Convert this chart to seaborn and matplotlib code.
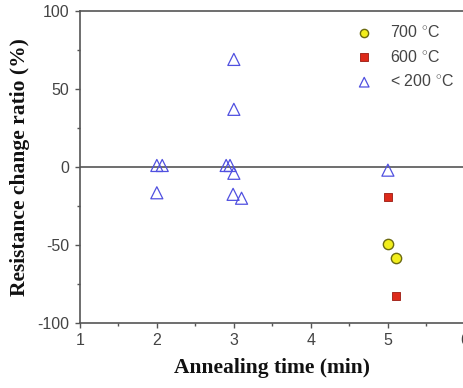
import matplotlib
matplotlib.use("Agg")
import matplotlib.pyplot as plt
import seaborn as sns
import pandas as pd
from matplotlib.ticker import MultipleLocator

# data
t700_x = [5.0, 5.1]
t700_y = [-49.5, -58]
t600_x = [5.0, 5.1]
t600_y = [-19, -83]
tlow_x = [2.0, 2.07, 2.0, 3.0, 3.0, 2.9, 2.95, 3.0, 2.99, 3.1, 5.0]
tlow_y = [1, 1, -16.5, 69, 37, 1, 1, -4, -17.5, -20, -2]
labels = ["700 $^{\\circ}$C", "600 $^{\\circ}$C", "< 200 $^{\\circ}$C"]

sns.set_theme(style="ticks")
plt.rcParams['font.family'] = ['Liberation Sans', 'DejaVu Sans']
plt.rcParams['axes.unicode_minus'] = False
plt.rcParams['mathtext.fontset'] = 'custom'
plt.rcParams['mathtext.rm'] = 'Liberation Sans'
plt.rcParams['mathtext.it'] = 'Liberation Sans:italic'
plt.rcParams['mathtext.bf'] = 'Liberation Sans:bold'

fig = plt.figure(figsize=(4.64, 3.88), dpi=100)
ax = fig.add_axes([0.172, 0.1675, 0.83, 0.804])

sns.scatterplot(x=t700_x, y=t700_y, ax=ax, marker="o", s=55, color="#f2ee1c",
                edgecolor="#6b6a10", linewidth=1.0, label=labels[0], zorder=3)
sns.scatterplot(x=t600_x, y=t600_y, ax=ax, marker="s", s=40, color="#dd2a1a",
                edgecolor="#9a1a10", linewidth=0.6, label=labels[1], zorder=3)
sns.scatterplot(x=tlow_x, y=tlow_y, ax=ax, marker="^", s=75, facecolor="none",
                edgecolor="#5050e0", linewidth=0.9, label=labels[2], zorder=3)

ax.axhline(0, color="#555555", lw=1.2, zorder=1)
ax.set_xlim(1, 6)
ax.set_ylim(-100, 100)
ax.xaxis.set_major_locator(MultipleLocator(1))
ax.xaxis.set_minor_locator(MultipleLocator(0.5))
ax.yaxis.set_major_locator(MultipleLocator(50))
ax.yaxis.set_minor_locator(MultipleLocator(25))
ax.tick_params(axis="both", which="major", direction="out", length=3.5, width=1,
               color="#555555", labelcolor="#444444", labelsize=11.5, pad=4)
ax.tick_params(axis="both", which="minor", direction="out", length=2.5, width=1,
               color="#555555")
for s in ax.spines.values():
    s.set_color("#555555")
    s.set_linewidth(1.2)

ax.set_xlabel("Annealing time (min)", family=["Liberation Serif"], fontweight="bold",
              fontsize=15.5, color="#111111", labelpad=7)
ax.set_ylabel("Resistance change ratio (%)", family=["Liberation Serif"], fontweight="bold",
              fontsize=15.5, color="#111111", labelpad=5)

leg = ax.legend(loc="upper right", bbox_to_anchor=(1.0, 0.995), frameon=False,
                fontsize=11.5, handletextpad=0.6, labelspacing=0.55, borderaxespad=0.3,
                markerscale=0.8)
for t in leg.get_texts():
    t.set_color("#444444")

fig.savefig("out.png", dpi=100)
